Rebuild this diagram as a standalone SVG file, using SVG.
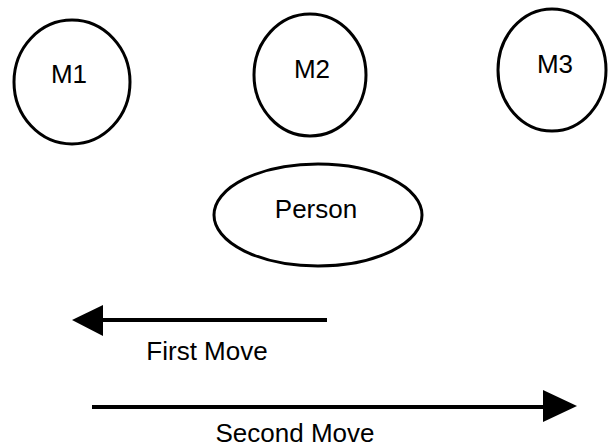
<svg xmlns="http://www.w3.org/2000/svg" width="608" height="448" viewBox="0 0 608 448">
<style>
.node{fill:#fff;stroke:#000;stroke-width:3}
.lbl{font-family:"Liberation Sans",Arial,sans-serif;font-size:26px;fill:#000;text-anchor:middle}
.conn{stroke:#000;stroke-width:4;fill:none}
.head{fill:#000}
</style>
<rect width="608" height="448" fill="#fff"/>
<g id="M1"><ellipse class="node" cx="72" cy="82" rx="58" ry="62"/><text class="lbl" x="69" y="83">M1</text></g>
<g id="M2"><ellipse class="node" cx="310" cy="75" rx="56" ry="61"/><text class="lbl" x="312" y="78">M2</text></g>
<g id="M3"><ellipse class="node" cx="552" cy="70" rx="54" ry="61"/><text class="lbl" x="555" y="73">M3</text></g>
<g id="Person"><ellipse class="node" cx="318" cy="215" rx="104" ry="51"/><text class="lbl" x="316" y="218">Person</text></g>
<g id="connectors">
<g id="first-move"><line class="conn" x1="327" y1="320" x2="100" y2="320"/><polygon class="head" points="72,320 103,305 103,336"/><text class="lbl" x="207" y="360">First Move</text></g>
<g id="second-move"><line class="conn" x1="92" y1="407" x2="548" y2="407"/><polygon class="head" points="577,406 543,390 543,422"/><text class="lbl" x="295" y="442">Second Move</text></g>
</g>
</svg>
